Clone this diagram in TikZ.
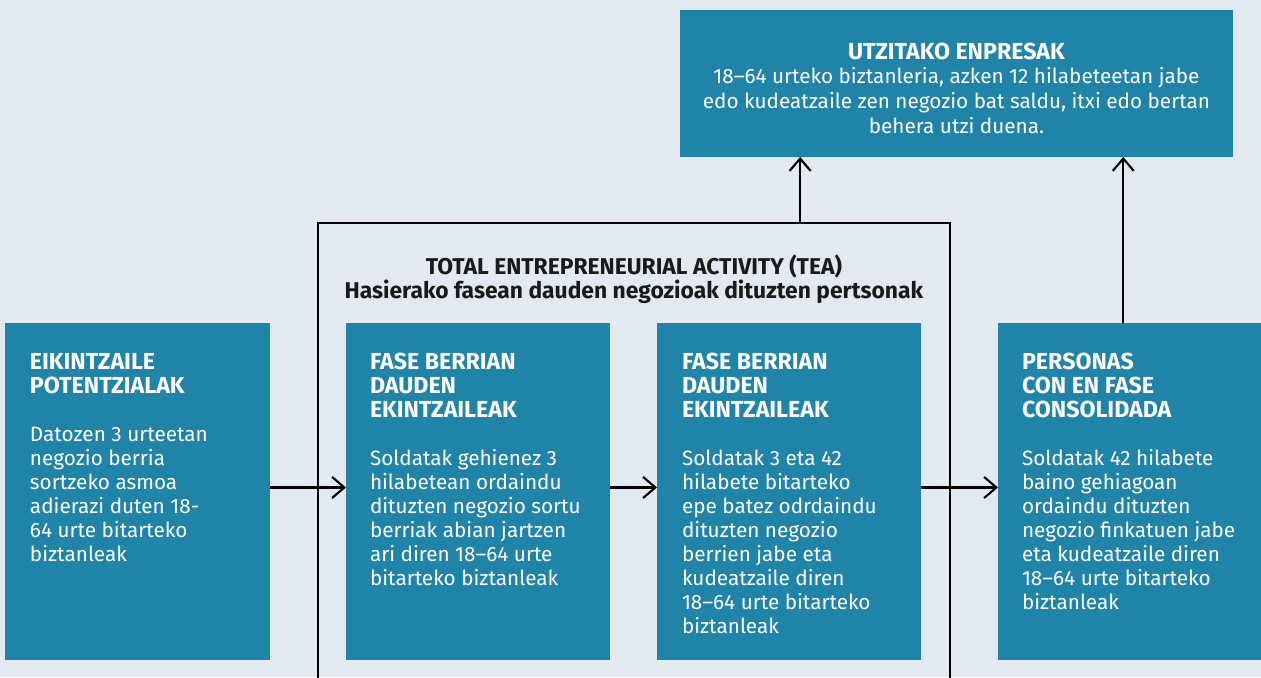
\documentclass[tikz,border=0pt]{standalone}
\usepackage{fontspec}
\setmainfont{Fira Sans}
\usetikzlibrary{calc,arrows.meta}
\definecolor{boxblue}{HTML}{2083A8}
\definecolor{backblue}{HTML}{E3E9F1}
\definecolor{titleblack}{HTML}{1A1A1A}
\newcommand{\hd}[1]{{\fontsize{13.2}{13.66}\selectfont\bfseries #1}}

\begin{document}
\begin{tikzpicture}[x=0.02cm,y=-0.02cm,every node/.style={outer sep=0pt,inner sep=0pt}]
\tikzset{
    box/.style     = {fill=boxblue,draw=none,anchor=north west,minimum width=5.28cm,minimum height=6.74cm},
    boxtext/.style = {anchor=north west,align=left,text=white,font=\fontsize{11.8}{13.66}\selectfont},
    frame/.style   = {draw=black,line width=1.4pt,anchor=north west,minimum width=12.64cm,minimum height=9.6cm},
    arr/.style     = {line width=1.2pt,-{Straight Barb[length=7pt,width=12pt]}}
}

\useasboundingbox (0,0) rectangle (1261,677);
\fill[backblue] (0,0) rectangle (1261,677);

%% TEA frame
\node (tea) [frame] at (318,223) {};
\node (teatitle) [anchor=north,align=center,text=titleblack,font=\fontsize{13}{13.66}\selectfont\bfseries]
    at ($(tea.north)+(0,32)$) {TOTAL ENTREPRENEURIAL ACTIVITY (TEA)\\Hasierako fasean dauden negozioak dituzten pertsonak};

%% boxes along the row
\node (pot) [box,minimum width=5.3cm] at (5,323) {};
\node (pottxt) [boxtext] at ($(pot.north west)+(25,30)$)
    {\hd{EIKINTZAILE}\\\hd{POTENTZIALAK}\\[13.66pt]Datozen 3 urteetan\\negozio berria\\sortzeko asmoa\\adierazi duten 18-\\64 urte bitarteko\\biztanleak};

\node (new) [box] at (346,323) {};
\node (newtxt) [boxtext] at ($(new.north west)+(24,30)$)
    {\hd{FASE BERRIAN}\\\hd{DAUDEN}\\\hd{EKINTZAILEAK}\\[13.66pt]Soldatak gehienez 3\\hilabetean ordaindu\\dituzten negozio sortu\\berriak abian jartzen\\ari diren 18–64 urte\\bitarteko biztanleak};

\node (young) [box] at (657,323) {};
\node (youngtxt) [boxtext] at ($(young.north west)+(25,30)$)
    {\hd{FASE BERRIAN}\\\hd{DAUDEN}\\\hd{EKINTZAILEAK}\\[13.66pt]Soldatak 3 eta 42\\hilabete bitarteko\\epe batez odrdaindu\\dituzten negozio\\berrien jabe eta\\kudeatzaile diren\\18–64 urte bitarteko\\biztanleak};

\node (cons) [box,minimum width=5.4cm] at (998,323) {};
\node (constxt) [boxtext] at ($(cons.north west)+(24,30)$)
    {\hd{PERSONAS}\\\hd{CON EN FASE}\\\hd{CONSOLIDADA}\\[13.66pt]Soldatak 42 hilabete\\baino gehiagoan\\ordaindu dituzten\\negozio finkatuen jabe\\eta kudeatzaile diren\\18–64 urte bitarteko\\biztanleak};

%% top box
\node (exit) [box,minimum width=11.06cm,minimum height=2.94cm] at (680,10) {};
\node (exittxt) [anchor=north,align=center,text=white,font=\fontsize{11.8}{13.95}\selectfont]
    at ($(exit.north)+(0,33)$) {\hd{UTZITAKO ENPRESAK}\\18–64 urteko biztanleria, azken 12 hilabeteetan jabe\\edo kudeatzaile zen negozio bat saldu, itxi edo bertan\\behera utzi duena.};

%% arrows
\draw[arr] ($(pot.east)+(0,-4)$) -- ($(new.west)+(0,-4)$);
\draw[arr] ($(new.east)+(0,-4)$) -- ($(young.west)+(0,-4)$);
\draw[arr] ($(young.east)+(0,-4)$) -- ($(cons.west)+(0,-4)$);

\coordinate (t1) at ($(tea.north west)!0.763!(tea.north east)$);
\coordinate (t2) at ($(cons.north west)!0.464!(cons.north east)$);
\draw[arr] (t1) -- (t1 |- exit.south);
\draw[arr] (t2) -- (t2 |- exit.south);

\end{tikzpicture}
\end{document}
